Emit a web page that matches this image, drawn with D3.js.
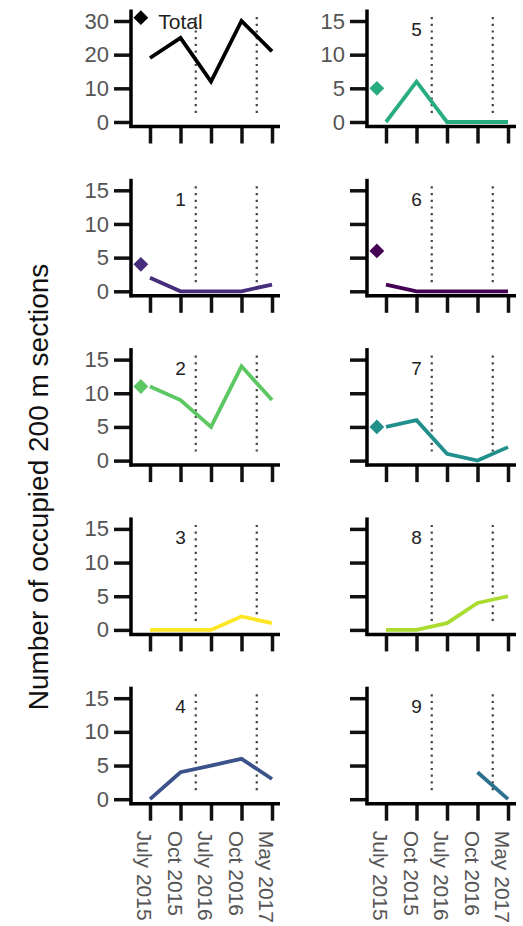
<!DOCTYPE html>
<html>
<head>
<meta charset="utf-8">
<script src="https://cdn.jsdelivr.net/npm/d3@7"></script>
<style>
html,body{margin:0;padding:0;background:#fff;}
svg{display:block;}
text{font-family:"Liberation Sans",Arial,sans-serif;}
</style>
</head>
<body>
<svg id="chart" width="523" height="926"></svg>
<script>
// ---- data ----
const dates = ["July 2015", "Oct 2015", "July 2016", "Oct 2016", "May 2017"];
const panelNames = ["Total", "1", "2", "3", "4", "5", "6", "7", "8", "9"];
const total   = [19, 25, 12, 30, 21];
const region1 = [2, 0, 0, 0, 1];
const region2 = [11, 9, 5, 14, 9];
const region3 = [0, 0, 0, 2, 1];
const region4 = [0, 4, 5, 6, 3];
const region5 = [0, 6, 0, 0, 0];
const region6 = [1, 0, 0, 0, 0];
const region7 = [5, 6, 1, 0, 2];
const region8 = [0, 0, 1, 4, 5];
const region9 = [null, null, null, 4, 0];
const startValues = [31, 4, 11, null, null, 5, 6, 5, null, null];
const colors = ["#000000", "#472D7B", "#5DC863", "#FDE725", "#3B528B",
                "#27AD81", "#440154", "#21908C", "#AADC32", "#2C728E"];
const yTicksTotal = [0, 10, 20, 30];
const yTicksRegion = [0, 5, 10, 15];
const eventPositions = [1.5, 3.5];   // dotted reference lines between sampling dates
const startPosition = -0.3;          // position of initial-value diamond

const series = [total, region1, region2, region3, region4,
                region5, region6, region7, region8, region9];

// ---- layout ----
const svg = d3.select("#chart");
const colAxisX = [131, 367];
const row0Base = 122, rowStep = 169.3, plotH = 101;

series.forEach((vals, p) => {
  const col = p < 5 ? 0 : 1;
  const row = p % 5;
  const ax = colAxisX[col];
  const y0 = row0Base + row * rowStep;
  const isTotal = p === 0;
  const yt = isTotal ? yTicksTotal : yTicksRegion;
  const yMax = yt[yt.length - 1];

  const x = d3.scaleLinear().domain([0, dates.length - 1]).range([ax + 19, ax + 141]);
  const y = d3.scaleLinear().domain([0, yMax]).range([y0, y0 - plotH]);
  const xAxisY = y0 + 4.5;

  const g = svg.append("g");

  // dotted event lines
  eventPositions.forEach(e => {
    g.append("line")
      .attr("x1", x(e)).attr("x2", x(e))
      .attr("y1", y(yMax) - 4).attr("y2", y(0) - 5)
      .attr("stroke", "#444").attr("stroke-width", 2.2)
      .attr("stroke-dasharray", "2.2,4.5");
  });

  // y axis
  const showYLabels = col === 0 || row === 0;
  const yAxis = d3.axisLeft(y).tickValues(yt).tickSize(17).tickPadding(5)
    .tickFormat(showYLabels ? d3.format("d") : () => "");
  const ya = g.append("g").attr("transform", `translate(${ax},0)`).call(yAxis);
  ya.select(".domain").remove();
  ya.selectAll(".tick line").attr("stroke", "#111").attr("stroke-width", 3.5);
  ya.selectAll(".tick text").attr("fill", "#555").attr("font-size", 22);

  // x axis
  const xAxis = d3.axisBottom(x).tickValues(d3.range(dates.length)).tickSize(17)
    .tickFormat(() => "");
  const xa = g.append("g").attr("transform", `translate(0,${xAxisY})`).call(xAxis);
  xa.select(".domain").remove();
  xa.selectAll(".tick line").attr("stroke", "#111").attr("stroke-width", 3.5);

  if (row === 4) {
    xa.selectAll(".tick").append("text")
      .attr("transform", "translate(-6,27) rotate(90)")
      .attr("text-anchor", "start")
      .attr("dominant-baseline", "central")
      .attr("fill", "#555").attr("font-size", 21)
      .text(i => dates[i]);
  }

  // axis lines
  g.append("line").attr("x1", ax).attr("x2", ax)
    .attr("y1", y(yMax) - 11.5).attr("y2", xAxisY + 1.5)
    .attr("stroke", "#000").attr("stroke-width", 3.5);
  g.append("line").attr("x1", ax - 1.5).attr("x2", ax + 149)
    .attr("y1", xAxisY).attr("y2", xAxisY)
    .attr("stroke", "#000").attr("stroke-width", 3.5);

  // data line
  const line = d3.line().defined(d => d != null)
    .x((d, i) => x(i)).y(d => y(d));
  g.append("path").datum(vals)
    .attr("d", line)
    .attr("fill", "none")
    .attr("stroke", colors[p]).attr("stroke-width", 3.8)
    .attr("stroke-linejoin", "miter").attr("stroke-linecap", "butt");

  // initial value diamond
  if (startValues[p] != null) {
    g.append("path")
      .attr("d", d3.symbol(d3.symbolSquare, 110)())
      .attr("transform", `translate(${x(startPosition)},${y(startValues[p])}) rotate(45)`)
      .attr("fill", colors[p]);
  }

  // panel label
  g.append("text")
    .attr("x", x(1)).attr("y", y(isTotal ? 29.8 : 13.7))
    .attr("text-anchor", "middle")
    .attr("dominant-baseline", "central")
    .attr("fill", "#222")
    .attr("font-size", isTotal ? 21 : 19)
    .text(panelNames[p]);
});

// y axis title
svg.append("text")
  .attr("transform", "translate(38,487) rotate(-90)")
  .attr("text-anchor", "middle")
  .attr("dominant-baseline", "central")
  .attr("fill", "#111")
  .attr("font-size", 28)
  .text("Number of occupied 200 m sections");
</script>
</body>
</html>
